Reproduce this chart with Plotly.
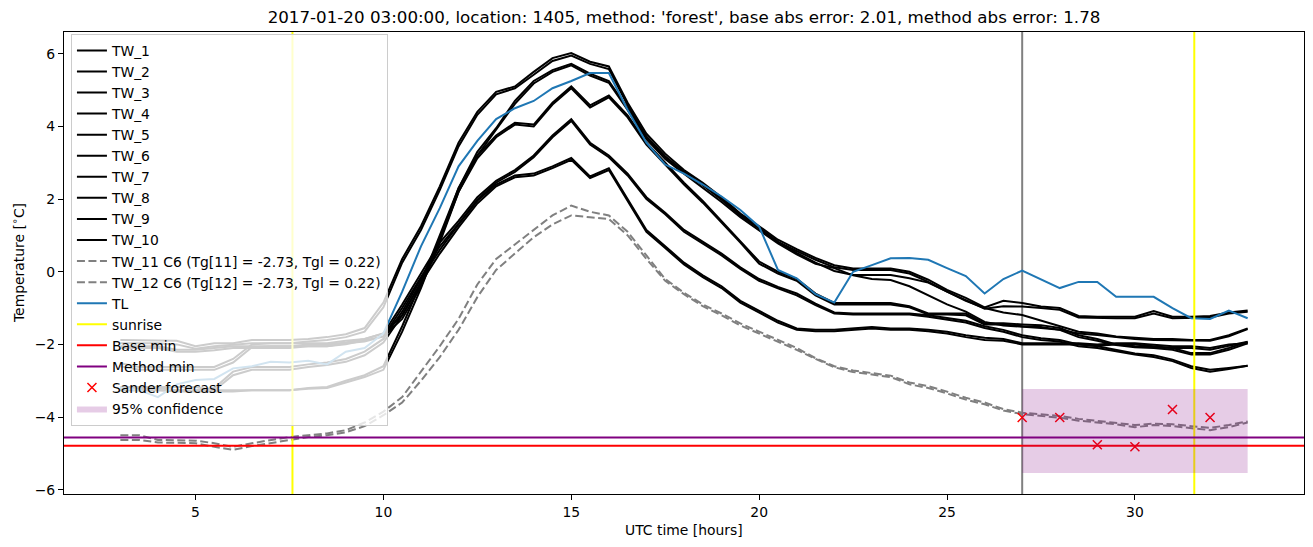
import plotly.graph_objects as go

# ---------------- data ----------------
hours = [3.0, 3.5, 4.0, 4.5, 5.0, 5.5, 6.0, 6.5, 7.0, 7.5, 8.0, 8.5, 9.0, 9.5, 10.0,
         10.5, 11.0, 11.5, 12.0, 12.5, 13.0, 13.5, 14.0, 14.5, 15.0, 15.5, 16.0, 16.5,
         17.0, 17.5, 18.0, 18.5, 19.0, 19.5, 20.0, 20.5, 21.0, 21.5, 22.0, 22.5, 23.0,
         23.5, 24.0, 24.5, 25.0, 25.5, 26.0, 26.5, 27.0, 27.5, 28.0, 28.5, 29.0, 29.5,
         30.0, 30.5, 31.0, 31.5, 32.0, 32.5, 33.0]

tw_1 = [-1.88, -1.88, -1.88, -1.9, -2.05, -1.97, -1.97, -1.88, -1.88, -1.88,
        -1.85, -1.8, -1.72, -1.55, -0.85, 0.35, 1.25, 2.35, 3.55, 4.4,
        4.95, 5.1, 5.5, 5.88, 6.02, 5.78, 5.65, 4.65, 3.8, 3.25,
        2.8, 2.45, 2.05, 1.6, 1.25, 0.88, 0.62, 0.38, 0.18, 0.09,
        0.09, 0.09, 0.0, -0.22, -0.5, -0.72, -0.98, -0.8, -0.86, -0.96,
        -1.0, -1.22, -1.24, -1.24, -1.24, -1.08, -1.24, -1.24, -1.22, -1.12, -1.07]
tw_2 = [-1.97, -1.97, -1.97, -2.0, -2.12, -2.05, -2.0, -1.97, -1.97, -1.97,
        -1.92, -1.88, -1.8, -1.65, -0.98, 0.25, 1.15, 2.25, 3.45, 4.32,
        4.88, 5.05, 5.42, 5.8, 5.95, 5.72, 5.58, 4.58, 3.72, 3.18,
        2.75, 2.4, 2.0, 1.55, 1.2, 0.82, 0.57, 0.33, 0.12, 0.05,
        0.05, 0.05, -0.05, -0.28, -0.55, -0.78, -1.02, -0.95, -0.96, -1.0,
        -1.05, -1.26, -1.28, -1.28, -1.28, -1.15, -1.28, -1.28, -1.26, -1.15, -1.1]
tw_3 = [-3.17, -3.17, -3.17, -3.17, -3.17, -3.26, -3.26, -3.26, -3.26, -3.26,
        -3.2, -3.17, -3.0, -2.85, -2.6, -1.5, -0.3, 1.0, 2.3, 3.3,
        3.95, 4.7, 5.25, 5.55, 5.72, 5.45, 5.25, 4.5, 3.7, 3.15,
        2.75, 2.38, 1.98, 1.55, 1.2, 0.82, 0.52, 0.25, 0.02, -0.09,
        -0.09, -0.09, -0.18, -0.3, -0.55, -0.8, -1.0, -1.12, -1.19, -1.35,
        -1.5, -1.65, -1.7, -1.78, -1.82, -1.85, -1.85, -1.88, -1.88, -1.75, -1.56]
tw_4 = [-3.26, -3.26, -3.26, -3.26, -3.3, -3.3, -3.3, -3.26, -3.26, -3.26,
        -3.22, -3.2, -3.05, -2.9, -2.7, -1.65, -0.45, 0.85, 2.2, 3.2,
        3.9, 4.62, 5.18, 5.5, 5.68, 5.4, 5.2, 4.45, 3.65, 3.1,
        2.7, 2.32, 1.92, 1.5, 1.15, 0.78, 0.48, 0.22, 0.1, -0.1,
        -0.2, -0.23, -0.4, -0.65, -0.9, -1.1, -1.38, -1.48, -1.51, -1.55,
        -1.6, -1.7, -1.74, -1.8, -1.85, -1.88, -1.88, -1.9, -1.9, -1.78, -1.58]
tw_5 = [-2.52, -2.62, -2.62, -2.62, -2.62, -2.62, -2.4, -2.0, -1.97, -1.97,
        -1.97, -1.97, -1.9, -1.85, -1.7, -1.2, -0.3, 0.9, 2.3, 3.2,
        3.75, 4.1, 4.05, 4.65, 5.1, 4.58, 4.85, 4.3, 3.55, 3.0,
        2.45, 1.95, 1.4, 0.85, 0.28, 0.0, -0.2, -0.6, -0.86, -0.86,
        -0.86, -0.86, -0.95, -1.15, -1.15, -1.15, -1.42, -1.42, -1.45, -1.47,
        -1.55, -1.75, -1.85, -2.0, -2.05, -2.08, -2.1, -2.24, -2.24, -2.1, -1.93]
tw_6 = [-2.6, -2.7, -2.7, -2.7, -2.7, -2.7, -2.5, -2.08, -2.05, -2.05,
        -2.05, -2.05, -1.97, -1.92, -1.78, -1.3, -0.4, 0.8, 2.2, 3.12,
        3.7, 4.05, 4.0, 4.6, 5.05, 4.52, 4.8, 4.25, 3.5, 2.95,
        2.4, 1.9, 1.35, 0.8, 0.22, -0.05, -0.25, -0.65, -0.9, -0.9,
        -0.9, -0.9, -0.98, -1.18, -1.18, -1.2, -1.45, -1.45, -1.5, -1.52,
        -1.6, -1.8, -1.9, -2.02, -2.08, -2.1, -2.15, -2.28, -2.28, -2.15, -1.97]
tw_7 = [-2.05, -2.05, -2.05, -2.15, -2.15, -2.1, -2.05, -2.05, -2.05, -2.05,
        -2.0, -2.0, -1.95, -1.85, -1.7, -0.9, -0.05, 0.8, 1.4, 2.05,
        2.5, 2.8, 3.2, 3.75, 4.2, 3.55, 3.2, 2.7, 2.05, 1.62,
        1.15, 0.82, 0.5, 0.12, -0.2, -0.42, -0.6, -0.88, -1.12, -1.15,
        -1.15, -1.15, -1.15, -1.2, -1.28, -1.35, -1.5, -1.6, -1.75, -1.83,
        -1.88, -2.0, -2.05, -2.15, -2.25, -2.3, -2.42, -2.6, -2.7, -2.65, -2.59]
tw_8 = [-2.1, -2.1, -2.1, -2.2, -2.2, -2.16, -2.1, -2.1, -2.1, -2.1,
        -2.05, -2.05, -2.0, -1.9, -1.78, -1.0, -0.15, 0.7, 1.32, 1.98,
        2.45, 2.75, 3.15, 3.7, 4.15, 3.5, 3.15, 2.65, 2.0, 1.58,
        1.1, 0.78, 0.45, 0.08, -0.25, -0.46, -0.65, -0.92, -1.15, -1.18,
        -1.18, -1.18, -1.18, -1.24, -1.32, -1.4, -1.55, -1.65, -1.8, -1.88,
        -1.92, -2.05, -2.1, -2.2, -2.28, -2.35, -2.46, -2.65, -2.75, -2.68, -2.59]
tw_9 = [-3.2, -3.2, -3.2, -3.26, -3.26, -3.2, -2.75, -2.62, -2.62, -2.62,
        -2.55, -2.5, -2.4, -2.2, -1.85, -1.1, -0.2, 0.6, 1.3, 1.95,
        2.4, 2.65, 2.7, 2.9, 3.13, 2.62, 2.85, 2.0, 1.15, 0.7,
        0.25, -0.1, -0.4, -0.8, -1.08, -1.35, -1.56, -1.6, -1.6, -1.56,
        -1.52, -1.56, -1.56, -1.6, -1.65, -1.75, -1.82, -1.85, -1.97, -1.97,
        -1.97, -1.97, -2.0, -1.97, -1.97, -2.0, -2.05, -2.05, -2.1, -2.0, -1.97]
tw_10 = [-3.26, -3.26, -3.26, -3.3, -3.3, -3.26, -2.85, -2.7, -2.7, -2.7,
         -2.62, -2.57, -2.48, -2.3, -1.95, -1.2, -0.3, 0.5, 1.22, 1.88,
         2.35, 2.6, 2.65, 2.85, 3.08, 2.58, 2.8, 1.95, 1.1, 0.65,
         0.2, -0.15, -0.45, -0.85, -1.12, -1.4, -1.6, -1.64, -1.64, -1.6,
         -1.56, -1.6, -1.6, -1.64, -1.7, -1.8, -1.88, -1.9, -2.0, -2.0,
         -2.0, -2.0, -2.04, -2.0, -2.0, -2.04, -2.1, -2.1, -2.15, -2.04, -1.93]
tw_11 = [-4.5, -4.5, -4.63, -4.63, -4.65, -4.72, -4.82, -4.72, -4.63, -4.55,
         -4.5, -4.45, -4.36, -4.15, -3.85, -3.45, -2.75, -2.05, -1.3, -0.35,
         0.35, 0.75, 1.15, 1.55, 1.82, 1.65, 1.55, 1.1, 0.45, -0.2,
         -0.58, -0.9, -1.15, -1.42, -1.65, -1.88, -2.1, -2.38, -2.6, -2.72,
         -2.8, -2.86, -3.05, -3.15, -3.3, -3.47, -3.6, -3.78, -3.88, -3.92,
         -3.97, -4.05, -4.1, -4.15, -4.22, -4.18, -4.2, -4.25, -4.3, -4.22, -4.12]
tw_12 = [-4.63, -4.63, -4.7, -4.72, -4.72, -4.82, -4.9, -4.8, -4.72, -4.63,
         -4.55, -4.5, -4.42, -4.25, -3.95, -3.6, -3.0, -2.35, -1.6, -0.7,
         0.05, 0.5, 0.95, 1.3, 1.55, 1.5, 1.45, 1.0, 0.35, -0.25,
         -0.62, -0.95, -1.2, -1.48, -1.7, -1.92, -2.15, -2.4, -2.63, -2.76,
         -2.82, -2.9, -3.1, -3.2, -3.35, -3.52, -3.65, -3.82, -3.92, -3.97,
         -4.02, -4.1, -4.15, -4.2, -4.28, -4.22, -4.25, -4.3, -4.36, -4.28, -4.15]
tl = [-3.2, -3.26, -3.45, -3.1, -2.98, -2.95, -2.66, -2.6, -2.48, -2.5,
      -2.45, -2.55, -2.2, -2.1, -1.7, -0.55, 0.7, 1.75, 2.9, 3.6,
      4.2, 4.5, 4.7, 5.05, 5.25, 5.47, 5.47, 4.45, 3.55, 2.95,
      2.7, 2.4, 2.07, 1.7, 1.24, 0.05, -0.18, -0.62, -0.85, 0.0,
      0.18, 0.37, 0.38, 0.33, 0.1, -0.12, -0.6, -0.2, 0.03, -0.22,
      -0.45, -0.28, -0.28, -0.69, -0.69, -0.69, -1.0, -1.28, -1.3, -1.07, -1.28]

tw_names = ["TW_1", "TW_2", "TW_3", "TW_4", "TW_5", "TW_6", "TW_7", "TW_8", "TW_9", "TW_10"]
tw_series = [tw_1, tw_2, tw_3, tw_4, tw_5, tw_6, tw_7, tw_8, tw_9, tw_10]
tw_11_name = "TW_11 C6 (Tg[11] = -2.73, Tgl = 0.22)"
tw_12_name = "TW_12 C6 (Tg[12] = -2.73, Tgl = 0.22)"

sunrise_hours = [7.58, 31.58]
forecast_hour = 27.0
base_min = -4.79
method_min = -4.56

sander_hours = [27, 28, 29, 30, 31, 32]
sander_temp = [-4.01, -4.01, -4.76, -4.82, -3.79, -4.01]

conf_hours = [27, 33]
conf_low = -5.54
conf_high = -3.23

title_text = ("2017-01-20 03:00:00, location: 1405, method: 'forest', "
              "base abs error: 2.01, method abs error: 1.78")

# ---------------- axis ranges (matplotlib-like 5% margins) ----------------
all_vals = [v for s in tw_series + [tw_11, tw_12, tl] for v in s] + [conf_low, conf_high] + sander_temp
y_lo, y_hi = min(all_vals), max(all_vals)
ypad = 0.05 * (y_hi - y_lo)
y_range = [y_lo - ypad, y_hi + ypad]
x_lo, x_hi = min(hours), max(hours)
xpad = 0.05 * (x_hi - x_lo)
x_range = [x_lo - xpad, x_hi + xpad]

FONT = "DejaVu Sans"
fig = go.Figure()

# forecast time marker (no legend entry)
fig.add_trace(go.Scatter(x=[forecast_hour, forecast_hour], y=y_range, mode="lines",
                         line=dict(color="#808080", width=2), showlegend=False,
                         hoverinfo="skip"))

for name, s in zip(tw_names, tw_series):
    fig.add_trace(go.Scatter(x=hours, y=s, mode="lines", name=name,
                             line=dict(color="black", width=2)))

fig.add_trace(go.Scatter(x=hours, y=tw_11, mode="lines", name=tw_11_name,
                         line=dict(color="#808080", width=2, dash="8px,3.5px")))
fig.add_trace(go.Scatter(x=hours, y=tw_12, mode="lines", name=tw_12_name,
                         line=dict(color="#808080", width=2, dash="8px,3.5px")))
fig.add_trace(go.Scatter(x=hours, y=tl, mode="lines", name="TL",
                         line=dict(color="#1f77b4", width=2)))

sx, sy = [], []
for h in sunrise_hours:
    sx += [h, h, None]
    sy += [y_range[0], y_range[1], None]
fig.add_trace(go.Scatter(x=sx, y=sy, mode="lines", name="sunrise",
                         line=dict(color="#ffff00", width=2)))
fig.add_trace(go.Scatter(x=x_range, y=[base_min, base_min], mode="lines", name="Base min",
                         line=dict(color="#ff0000", width=2)))
fig.add_trace(go.Scatter(x=x_range, y=[method_min, method_min], mode="lines", name="Method min",
                         line=dict(color="#800080", width=2)))
fig.add_trace(go.Scatter(x=sander_hours, y=sander_temp, mode="markers", name="Sander forecast",
                         marker=dict(symbol="x-thin", size=9, color="#ff0000",
                                     line=dict(color="#ff0000", width=1.5))))
fig.add_trace(go.Scatter(x=[conf_hours[0], conf_hours[1], conf_hours[1], conf_hours[0], conf_hours[0]],
                         y=[conf_low, conf_low, conf_high, conf_high, conf_low],
                         mode="lines", fill="toself", fillcolor="rgba(128,0,128,0.2)",
                         line=dict(width=0, color="rgba(128,0,128,0.2)"), name="95% confidence"))

axis_common = dict(showline=True, linecolor="black", linewidth=1.1, mirror=True,
                   ticks="outside", ticklen=5, tickwidth=1.1, tickcolor="black",
                   showgrid=False, zeroline=False,
                   tickfont=dict(family=FONT, size=13.9, color="black"))

fig.update_layout(
    width=1313, height=547,
    margin=dict(l=64, r=9, t=32, b=53),
    paper_bgcolor="white", plot_bgcolor="white",
    font=dict(family=FONT, size=13.9, color="black"),
    title=dict(text=title_text, x=0.5, xref="paper", xanchor="center",
               y=1 - 17 / 547, yref="container", yanchor="middle",
               font=dict(family=FONT, size=16.7, color="black")),
    xaxis=dict(range=x_range, tick0=0, dtick=5, **axis_common),
    yaxis=dict(range=y_range, tick0=0, dtick=2, **axis_common),
    legend=dict(x=0.0056, y=0.996, xanchor="left", yanchor="top",
                bgcolor="rgba(255,255,255,0.8)", bordercolor="#cccccc", borderwidth=1,
                font=dict(family=FONT, size=13.9, color="black"),
                itemwidth=30, tracegroupgap=0),
    showlegend=True,
    annotations=[
        dict(text="UTC time [hours]", x=0.5, y=0, xref="paper", yref="paper",
             xanchor="center", yanchor="middle", yshift=-36, showarrow=False,
             font=dict(family=FONT, size=13.9, color="black")),
        dict(text="Temperature [<sup>∘</sup>C]", x=0, y=0.5, xref="paper", yref="paper",
             xanchor="center", yanchor="middle", xshift=-46, textangle=-90, showarrow=False,
             font=dict(family=FONT, size=13.9, color="black")),
    ],
)

fig.write_html("out.html")
